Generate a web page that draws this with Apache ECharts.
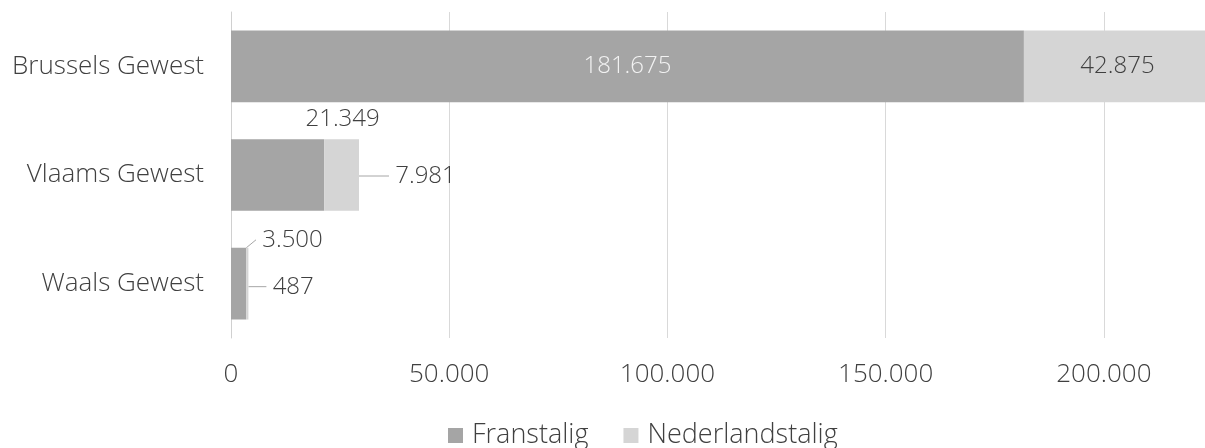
<!DOCTYPE html>
<html>
<head>
<meta charset="utf-8">
<script src="https://cdn.jsdelivr.net/npm/echarts@6/dist/echarts.min.js"></script>
<style>
  html, body { margin: 0; padding: 0; background: #fff; }
  #chart { width: 1205px; height: 448px; }
</style>
</head>
<body>
<div id="chart"></div>
<script>
const regions = ['Brussels Gewest', 'Vlaams Gewest', 'Waals Gewest']
const franstalig = [181675, 21349, 3500]
const nederlandstalig = [42875, 7981, 487]
const seriesNames = ['Franstalig', 'Nederlandstalig']

const FONT = 'Open Sans'
const TEXT = '#404040'
const fmt = v => String(v).replace(/\B(?=(\d{3})+(?!\d))/g, '.')

// labels that sit outside their segment (series-dataIndex)
const outside = {
  '0-1': r => ({ x: r.x + r.width / 2 + 65, y: r.y - 20, align: 'center', verticalAlign: 'middle' }),
  '1-1': r => ({ x: r.x + r.width + 30, y: r.y + r.height / 2 + 1, align: 'left', verticalAlign: 'middle' }),
  '0-2': r => ({ x: r.x + 25, y: r.y - 8, align: 'left', verticalAlign: 'middle' }),
  '1-2': r => ({ x: r.x + r.width + 18, y: r.y + r.height / 2 + 3, align: 'left', verticalAlign: 'middle' })
}
const withLine = ['1-1', '0-2', '1-2']

const chart = echarts.init(document.getElementById('chart'))

const makeData = (values, s) => values.map((v, i) => {
  const key = s + '-' + i
  const item = { value: v }
  if (outside[key]) {
    const line = withLine.includes(key)
    // leading space keeps a small gap between leader line and number
    item.label = { color: TEXT, formatter: p => (line ? ' ' : '') + fmt(p.value) }
    item.labelLine = { show: line }
  }
  return item
})

const option = {
  animation: false,
  textStyle: { fontFamily: FONT },
  grid: { left: 231, top: 12, width: 982, height: 326, containLabel: false, outerBoundsMode: 'none' },
  xAxis: {
    type: 'value',
    min: 0,
    max: 225000,
    interval: 50000,
    axisLine: { show: false },
    axisTick: { show: false },
    splitLine: { lineStyle: { color: '#d9d9d9', width: 1 } },
    axisLabel: {
      formatter: fmt,
      fontSize: 26,
      fontWeight: 300,
      color: TEXT,
      margin: 24,
      showMaxLabel: false
    }
  },
  yAxis: {
    type: 'category',
    inverse: true,
    data: regions,
    axisLine: { lineStyle: { color: '#d0d0d0' } },
    axisTick: { show: false },
    axisLabel: { fontSize: 26, fontWeight: 300, color: TEXT, margin: 27 }
  },
  legend: {
    data: seriesNames,
    top: 417,
    left: 443,
    icon: 'rect',
    itemWidth: 15,
    itemHeight: 15,
    itemGap: 35,
    textStyle: { fontSize: 27, fontWeight: 300, color: TEXT, padding: [0, 0, 0, 4] }
  },
  labelLayout: params => {
    const key = params.seriesIndex + '-' + params.dataIndex
    return outside[key] ? outside[key](params.rect) : {}
  },
  series: [
    {
      name: seriesNames[0],
      type: 'bar',
      stack: 'total',
      barCategoryGap: '34%',
      itemStyle: { color: '#a5a5a5' },
      label: {
        show: true,
        position: 'inside',
        formatter: p => fmt(p.value),
        fontSize: 24,
        fontWeight: 300,
        color: '#f2f2f2'
      },
      labelLine: { show: false, lineStyle: { color: '#a6a6a6', width: 1 } },
      data: makeData(franstalig, 0)
    },
    {
      name: seriesNames[1],
      type: 'bar',
      stack: 'total',
      barCategoryGap: '34%',
      itemStyle: { color: '#d5d5d5' },
      label: {
        show: true,
        position: 'inside',
        formatter: p => fmt(p.value),
        fontSize: 24,
        fontWeight: 300,
        color: TEXT
      },
      labelLine: { show: false, lineStyle: { color: '#a6a6a6', width: 1 } },
      data: makeData(nederlandstalig, 1)
    }
  ]
}

chart.setOption(option)
</script>
</body>
</html>
